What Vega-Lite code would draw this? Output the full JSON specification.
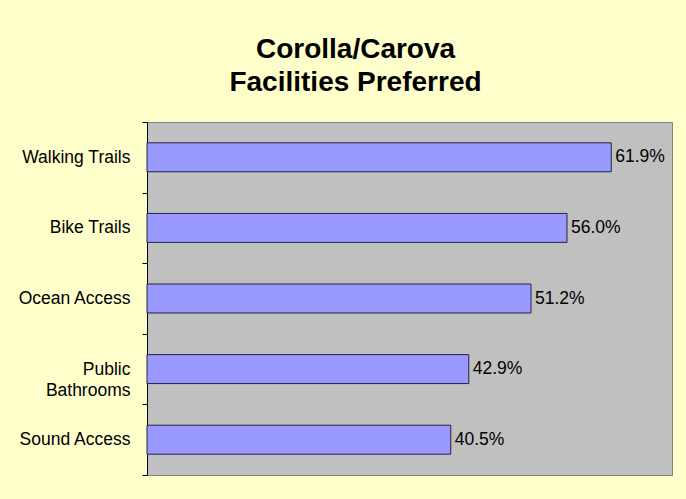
{
  "$schema": "https://vega.github.io/schema/vega-lite/v6.json",
  "autosize": {"type": "none"},
  "width": 525,
  "height": 353,
  "padding": {"left": 147, "top": 122, "right": 14, "bottom": 24},
  "background": "#FFFFCC",
  "title": {
    "text": ["Corolla/Carova", "Facilities Preferred"],
    "font": "Liberation Sans",
    "fontSize": 28,
    "fontWeight": "bold",
    "lineHeight": 33,
    "color": "#000000",
    "anchor": "middle",
    "dx": -54,
    "offset": 16
  },
  "data": {
    "values": [
      {"facility": "Walking Trails", "pct": 0.619},
      {"facility": "Bike Trails", "pct": 0.560},
      {"facility": "Ocean Access", "pct": 0.512},
      {"facility": "Public Bathrooms", "pct": 0.429},
      {"facility": "Sound Access", "pct": 0.405}
    ]
  },
  "encoding": {
    "y": {
      "field": "facility",
      "type": "nominal",
      "sort": null,
      "scale": {"paddingInner": 0, "paddingOuter": 0},
      "axis": {
        "title": null,
        "grid": false,
        "tickBand": "extent",
        "tickSize": 5,
        "tickColor": "#000000",
        "domainColor": "#000000",
        "domainWidth": 1,
        "labelFont": "Liberation Sans",
        "labelFontSize": 17.5,
        "labelColor": "#000000",
        "labelPadding": 12,
        "labelLineHeight": 21,
        "labelExpr": "datum.value == 'Public Bathrooms' ? ['Public', 'Bathrooms'] : datum.value"
      }
    },
    "x": {
      "field": "pct",
      "type": "quantitative",
      "scale": {"domain": [0, 0.7], "nice": false},
      "axis": null
    }
  },
  "layer": [
    {
      "mark": {
        "type": "bar",
        "height": {"band": 0.41},
        "fill": "#9999FF",
        "stroke": "#222244",
        "strokeWidth": 1
      }
    },
    {
      "mark": {
        "type": "text",
        "align": "left",
        "baseline": "middle",
        "dx": 4,
        "font": "Liberation Sans",
        "fontSize": 17.5,
        "color": "#000000"
      },
      "encoding": {
        "text": {"field": "pct", "type": "quantitative", "format": ".1%"}
      }
    }
  ],
  "config": {
    "view": {"fill": "#C0C0C0", "stroke": "#808080", "strokeWidth": 1}
  }
}
